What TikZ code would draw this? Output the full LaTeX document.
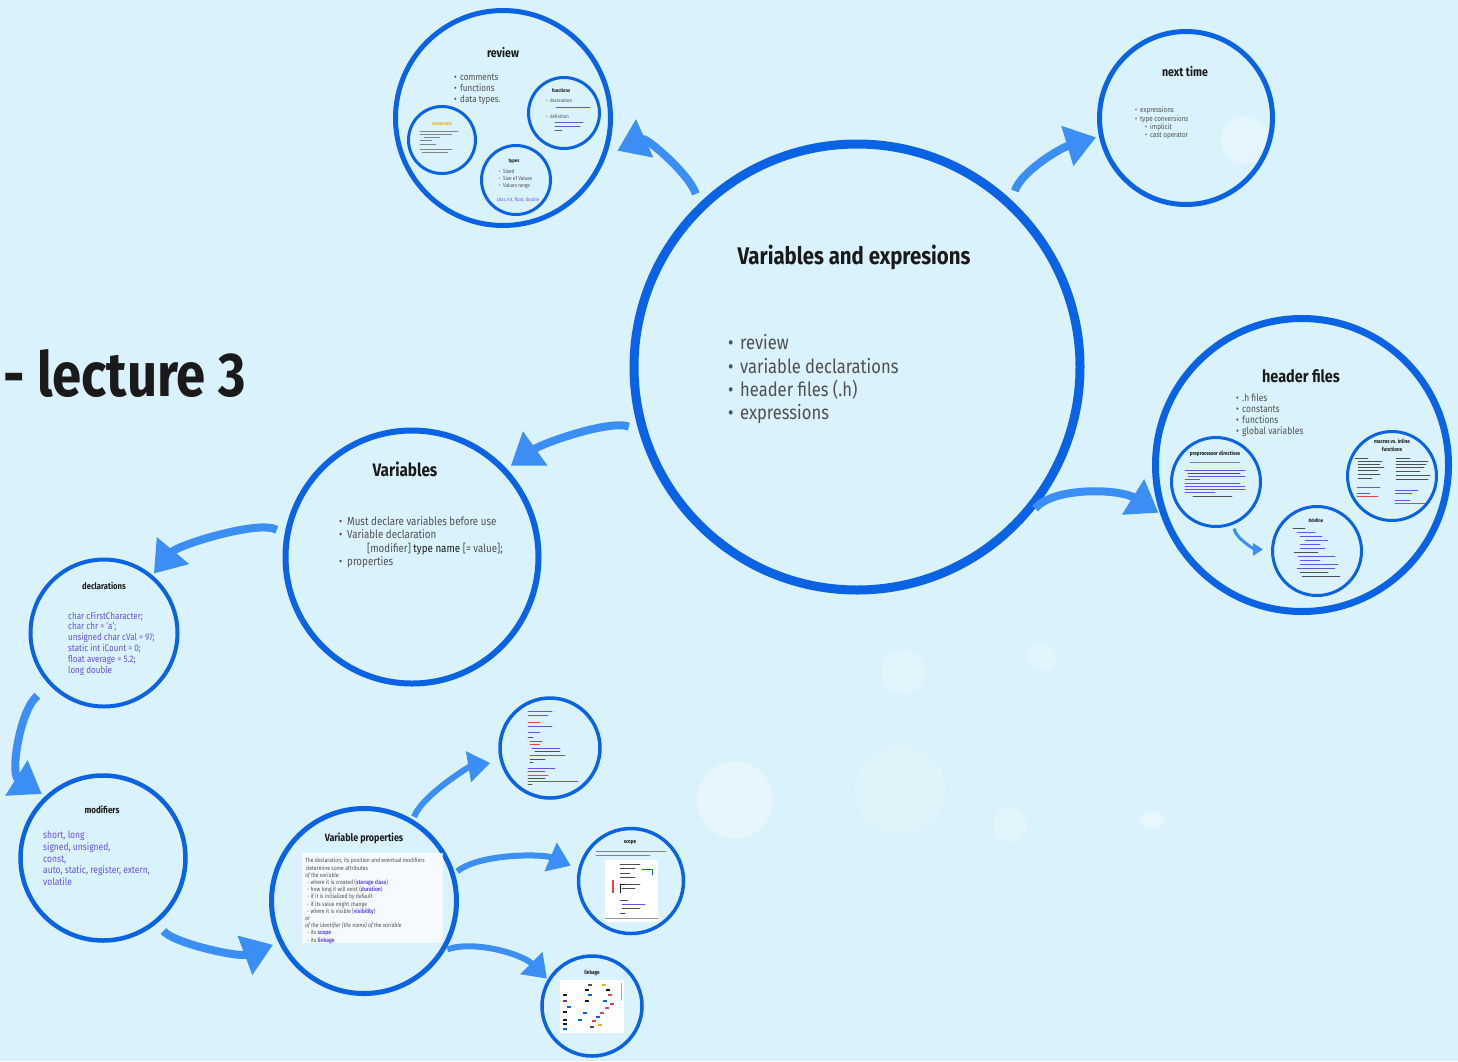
\documentclass[tikz,border=0pt]{standalone}
\usepackage{fontspec}
\setmainfont[FakeStretch=0.85]{Fira Sans}
\usetikzlibrary{arrows.meta}
\definecolor{bg}{HTML}{DAF2FB}
\definecolor{ring}{HTML}{0A62E4}
\definecolor{arrowc}{HTML}{3B8FF4}
\definecolor{txt}{HTML}{1A1A1A}
\definecolor{greytxt}{HTML}{505050}
\definecolor{purp}{HTML}{6A4FE8}
\definecolor{redc}{HTML}{E0484A}
\definecolor{yel}{HTML}{E8B020}
\newcommand{\myfs}[2]{\fontsize{#1}{#2}\selectfont}
\newcommand{\bul}[1]{\makebox[#1][l]{•}}
\tikzset{
  ring/.style={circle, draw=ring, inner sep=0pt},
  arr/.style={draw=arrowc, line width=8pt, -{Triangle[length=30pt,width=40pt]}},
  arrs/.style={draw=arrowc, line width=6pt, -{Triangle[length=22pt,width=30pt]}},
  ttl/.style={anchor=base, inner sep=0pt, text=txt, font=\bfseries#1},
  lst/.style={anchor=north west, inner sep=0pt, align=left, text=greytxt, font=#1},
  cl/.style={line width=0.9pt, line cap=round, draw=greytxt!70},
}
\begin{document}
\begin{tikzpicture}[x=1pt,y=-1pt]
\useasboundingbox (0,0) rectangle (1458,1061);
\fill[bg] (0,0) rectangle (1458,1061);
% soft background spots
\fill[white, opacity=0.35] (735,800) circle (38pt);
\fill[white, opacity=0.25] (903,672) circle (22pt);
\fill[white, opacity=0.25] (1042,657) circle (14pt);
\fill[white, opacity=0.15] (900,790) circle (45pt);
\fill[white, opacity=0.25] (1010,825) circle (17pt);
\fill[white, opacity=0.4] (1152,820) ellipse (12pt and 8pt);
\fill[white, opacity=0.3] (1245,140) circle (24pt);

% ---------- circles ----------
\node[ring, line width=9pt, minimum size=446pt] (main) at (857,367) {};
\node[ring, line width=5pt, minimum size=215pt] (review) at (503,118) {};
\node[ring, line width=5pt, minimum size=173pt] (next) at (1186,118) {};
\node[ring, line width=7pt, minimum size=293pt] (header) at (1302,465) {};
\node[ring, line width=6pt, minimum size=253pt] (vars) at (412,557) {};
\node[ring, line width=4pt, minimum size=147pt] (decl) at (104,633) {};
\node[ring, line width=4.5pt, minimum size=165pt] (mods) at (103,858) {};
\node[ring, line width=5pt, minimum size=185pt] (props) at (364,901) {};
\node[ring, line width=3.5pt, minimum size=100pt] (code) at (550,748) {};
\node[ring, line width=3.5pt, minimum size=105pt] (scope) at (631,881) {};
\node[ring, line width=3.5pt, minimum size=100pt] (link) at (592,1006) {};
% review inner circles
\node[ring, line width=3pt, minimum size=67pt] (rcom) at (442,140) {};
\node[ring, line width=3pt, minimum size=71pt] (rfun) at (564,113) {};
\node[ring, line width=3pt, minimum size=69pt] (rtyp) at (516,180) {};
% header inner circles
\node[ring, line width=3pt, minimum size=89pt] (hpre) at (1216,482) {};
\node[ring, line width=3pt, minimum size=89pt] (hmac) at (1392,476) {};
\node[ring, line width=3pt, minimum size=89pt] (hinl) at (1317,551) {};

% ---------- arrows ----------
\draw[arr, shorten <=10pt, shorten >=12pt] (main.134) .. controls +(-10,-30) and +(40,-18) .. (review.-20);
\draw[arr, shorten <=10pt, shorten >=3pt] (main.47) .. controls +(8,-28) and +(-40,12) .. (next.192);
\draw[arr, shorten <=10pt, shorten >=2pt] (main.-41) .. controls +(25,-30) and +(-40,-25) .. (header.199);
\draw[arr, shorten <=10pt, shorten >=5pt] (main.196) .. controls +(-30,-10) and +(35,-25) .. (vars.43);
\draw[arr, shorten <=9pt, shorten >=2pt] (vars.170) .. controls +(-25,-15) and +(25,-30) .. (decl.50);
\draw[arr, shorten <=16pt, shorten >=4pt] (decl.224) .. controls +(-30,25) and +(-35,-22) .. (mods.133);
\draw[arr, shorten <=10pt, shorten >=6pt] (mods.-50) .. controls +(15,20) and +(-40,15) .. (props.206);
\draw[arrs, shorten <=3pt, shorten >=10pt] (props.59) .. controls +(10,-25) and +(-30,5) .. (code.195);
\draw[arrs, shorten <=3pt, shorten >=8pt] (props.17) .. controls +(25,-20) and +(-35,-15) .. (scope.167);
\draw[arrs, shorten <=2pt, shorten >=1pt] (props.-31) .. controls +(30,-10) and +(-25,-25) .. (link.149);
\draw[draw=arrowc, line width=3pt, -{Triangle[length=10pt,width=12pt]}, shorten <=4pt, shorten >=8pt] (hpre.-68) .. controls +(3,15) and +(-15,0) .. (hinl.178);

% ---------- main ----------
\node[ttl=\myfs{24}{28}] (maintitle) at (854,264) {Variables and expresions};
\node[lst=\myfs{19.5}{23.3}] (mainlist) at (728,334.5) {\bul{12pt}review\\\bul{12pt}variable declarations\\\bul{12pt}header files (.h)\\\bul{12pt}expressions};
\node[anchor=base west, inner sep=0pt, text=txt, font=\bfseries\myfs{62}{70}] (lecture) at (3,396) {- lecture 3};

% ---------- review ----------
\node[ttl=\myfs{12.5}{14}] (revtitle) at (503,57) {review};
\node[lst=\myfs{9.5}{11}] (revlist) at (454,74) {\bul{6pt}comments\\\bul{6pt}functions\\\bul{6pt}data types.};
\node[anchor=base, inner sep=0pt, text=yel, font=\bfseries\myfs{5}{6}] (comtitle) at (442,125) {comments};
\foreach \y/\a/\b in {131/420/458, 134/420/452, 137/424/440, 140/420/432, 144/420/436, 149/420/452, 152/422/448}
  \draw[cl, line width=0.6pt] (\a,\y) -- (\b,\y);
\node[ttl=\myfs{5}{6}] (funtitle) at (561,92) {functions};
\node[anchor=base west, inner sep=0pt, text=greytxt, font=\myfs{5}{6}] (fdecl) at (546,102) {\bul{4pt}declaration};
\node[anchor=base west, inner sep=0pt, text=greytxt, font=\myfs{5}{6}] (fdef) at (546,118) {\bul{4pt}definition};
\foreach \y/\a/\b in {107/556/590, 122/555/583, 126/555/580, 130/555/562}
  \draw[cl, draw=purp, line width=0.6pt] (\a,\y) -- (\b,\y);
\node[ttl=\myfs{5}{6}] (typtitle) at (514,162) {types};
\node[lst=\myfs{5.5}{7}] (typlist) at (499,169) {\bul{4pt}Sized\\\bul{4pt}Size of Values\\\bul{4pt}Values range};
\node[anchor=base, inner sep=0pt, text=purp, font=\myfs{5}{6}] (typcode) at (518,201) {char, int, float, double};

% ---------- next time ----------
\node[ttl=\myfs{12.5}{14}] (nexttitle) at (1185,76) {next time};
\node[lst=\myfs{7.4}{8.3}] (nextlist) at (1135,107) {\bul{5pt}expressions\\\bul{5pt}type conversions\\\hspace*{10pt}\bul{5pt}implicit\\\hspace*{10pt}\bul{5pt}cast operator};

% ---------- header files ----------
\node[ttl=\myfs{17}{19}] (headtitle) at (1301,382) {header files};
\node[lst=\myfs{10}{11}] (headlist) at (1236,393.5) {\bul{6pt}.h files\\\bul{6pt}constants\\\bul{6pt}functions\\\bul{6pt}global variables};
\node[ttl=\myfs{5.5}{6.5}] (pretitle) at (1215,455) {preprocessor directives};
\draw[cl, line width=0.5pt] (1190,462) -- (1240,462);
\foreach \y/\a/\b/\c in {470/1185/1245/purp, 473/1188/1240/greytxt, 476/1188/1245/purp, 479/1185/1200/purp, 483/1185/1240/purp, 486/1185/1245/purp, 489/1185/1245/purp, 492/1185/1215/purp, 496/1193/1232/greytxt}
  \draw[cl, draw=\c, line width=0.6pt] (\a,\y) -- (\b,\y);
\node[anchor=base, inner sep=0pt, align=center, text=txt, font=\bfseries\myfs{5.5}{8}] (mactitle) at (1392,451) {macros vs. inline\\functions};
\foreach \y/\a/\b/\c in {458/1355/1368/greytxt, 461/1358/1382/greytxt, 464/1358/1380/greytxt, 467/1358/1384/greytxt, 470/1358/1378/greytxt, 474/1358/1380/greytxt, 478/1358/1372/greytxt, 487/1357/1380/purp, 493/1357/1370/purp, 496/1357/1378/redc,
  458/1396/1410/greytxt, 461/1396/1428/greytxt, 464/1396/1426/greytxt, 467/1396/1424/greytxt, 471/1396/1420/greytxt, 475/1396/1430/greytxt, 479/1396/1428/greytxt, 490/1395/1418/purp, 493/1395/1412/purp, 500/1395/1410/purp, 503/1395/1425/redc}
  \draw[cl, draw=\c, line width=0.5pt] (\a,\y) -- (\b,\y);
\node[ttl=\myfs{5}{6}] (inltitle) at (1316,522) {\#define};
\foreach \y/\a/\b/\c in {528/1293/1305/greytxt, 532/1297/1315/purp, 536/1300/1322/purp, 540/1305/1328/purp, 544/1300/1320/purp, 548/1300/1325/purp, 552/1294/1318/greytxt, 556/1298/1335/purp, 560/1300/1320/purp, 564/1300/1338/purp, 568/1297/1335/purp, 572/1300/1328/greytxt, 576/1302/1340/greytxt}
  \draw[cl, draw=\c, line width=0.5pt] (\a,\y) -- (\b,\y);

% ---------- Variables ----------
\node[ttl=\myfs{18}{20}] (varstitle) at (405,476) {Variables};
\node[lst=\myfs{11.5}{13.3}] (varslist) at (339,516.5) {\bul{8pt}Must declare variables before use\\\bul{8pt}Variable declaration\\\hspace*{28pt}[modifier] \textcolor{txt}{type name} [= value];\\\bul{8pt}properties};

% ---------- declarations ----------
\node[ttl=\myfs{9}{10}] (decltitle) at (104,589) {declarations};
\node[lst=\myfs{9.5}{10.8}, text=purp] (decllist) at (68,611.5) {char cFirstCharacter;\\char chr = 'a';\\unsigned char cVal = 97;\\static int iCount = 0;\\float average = 5.2;\\long double};

% ---------- modifiers ----------
\node[ttl=\myfs{9.5}{11}] (modtitle) at (102,813) {modifiers};
\node[lst=\myfs{10}{11.7}, text=purp] (modlist) at (43,831) {short, long\\signed, unsigned,\\const,\\auto, static, register, extern,\\volatile};

% ---------- Variable properties ----------
\node[ttl=\myfs{10.5}{12}] (proptitle) at (364,841) {Variable properties};
\fill[white, opacity=0.75] (302,853) rectangle (443,943);
\node[lst=\myfs{6}{7.2}] (proptext) at (305,858) {The declaration, its position and eventual modifiers\\
\hspace*{1pt}determine some attributes\\
\textit{of the variable:}\\
\hspace*{2pt}- where it is created (\textcolor{purp}{\bfseries storage class})\\
\hspace*{2pt}- how long it will exist (\textcolor{purp}{\bfseries duration})\\
\hspace*{2pt}- if it is initialized by default\\
\hspace*{2pt}- if its value might change\\
\hspace*{2pt}- where it is visible (\textcolor{purp}{\bfseries visibility})\\
or\\
\textit{of the identifier (the name) of the variable}\\
\hspace*{2pt}- its \textcolor{purp}{\bfseries scope}\\
\hspace*{2pt}- its \textcolor{purp}{\bfseries linkage}};

% ---------- code circle ----------
\foreach \y/\a/\b/\c in {711/528/552/purp, 715/528/548/purp, 722/528/540/redc, 726/528/552/purp, 732/528/540/purp, 737/528/533/greytxt, 741/530/542/purp, 744/530/540/redc, 748/532/560/purp, 751/535/560/greytxt, 755/530/565/purp, 759/530/545/greytxt, 762/530/533/greytxt, 768/528/555/purp, 771/528/545/purp, 775/528/548/redc, 778/528/545/greytxt, 781/528/578/purp, 784/528/532/greytxt}
  \draw[cl, draw=\c, line width=0.6pt] (\a,\y) -- (\b,\y);

% ---------- scope ----------
\node[ttl=\myfs{5.5}{6.5}] (scopetitle) at (630,843) {scope};
\draw[cl, line width=0.6pt] (596,851) -- (666,851);
\draw[cl, line width=0.6pt] (596,855) -- (650,855);
\fill[white] (605,860) rectangle (658,922);
\foreach \y/\a/\b/\c in {864/620/640/greytxt, 868/620/635/greytxt, 873/620/630/greytxt, 877/620/635/greytxt, 884/622/640/greytxt, 888/622/635/greytxt, 900/620/628/greytxt, 904/622/645/purp, 908/622/640/greytxt, 913/620/625/greytxt}
  \draw[cl, draw=\c, line width=0.6pt] (\a,\y) -- (\b,\y);
\draw[cl, draw=ring, line width=0.6pt] (642,869) -- (652,869) -- (652,875);
\draw[draw=redc, line width=1.2pt] (613,880) -- (613,893);
\draw[draw=txt, line width=0.8pt] (620,893) -- (620,884) -- (625,884);
\draw[draw=greytxt!60, line width=0.6pt] (605,918) -- (658,918);

% ---------- linkage ----------
\node[ttl=\myfs{5.5}{6.5}] (linktitle) at (592,974) {linkage};
\fill[white] (560,980) rectangle (624,1033);
\draw[draw=greytxt!50, line width=1pt] (621,983) -- (621,1000);
\foreach \x/\y/\c in {563/995/txt, 563/1001/greytxt, 567/1007/ring, 563/1012/txt, 563/1020/txt, 563/1024/txt, 563/1029/ring, 588/985/greytxt, 585/990/txt, 588/995/ring, 585/1001/txt, 602/985/yel, 606/990/txt, 608/995/redc, 603/1001/ring, 610/1004/redc, 605/1008/redc, 600/1013/redc, 596/1017/ring, 592/1021/redc, 590/1027/greytxt, 583/1013/ring, 578/1020/ring, 598/1025/yel}
  \draw[draw=\c, line width=1.2pt] (\x,\y) -- ++(4,0);
\end{tikzpicture}
\end{document}
